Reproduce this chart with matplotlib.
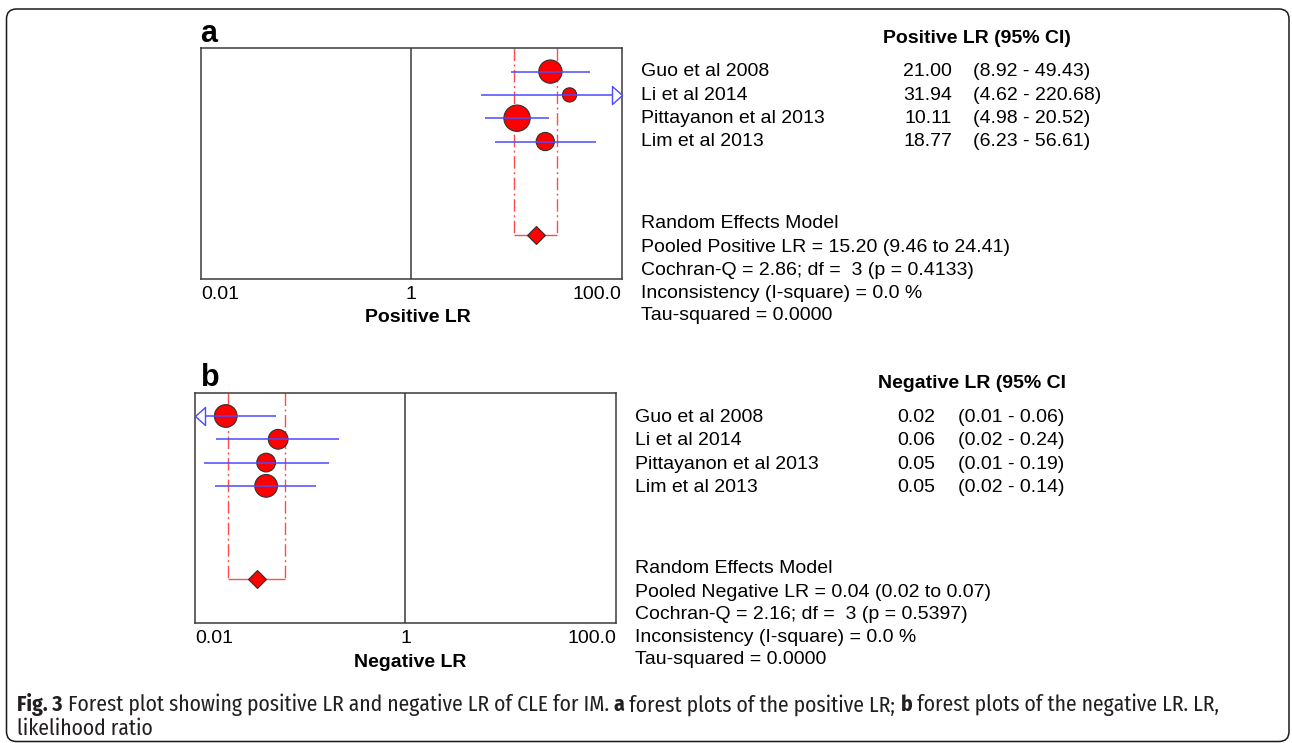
import matplotlib
matplotlib.use("Agg")
import matplotlib.pyplot as plt
from matplotlib.patches import FancyBboxPatch
from matplotlib.path import Path
from matplotlib.transforms import IdentityTransform
import numpy as np

# ---------------- data ----------------
studies = ["Guo et al 2008", "Li et al 2014", "Pittayanon et al 2013", "Lim et al 2013"]

pos_lr = [21.00, 31.94, 10.11, 18.77]
pos_lo = [8.92, 4.62, 4.98, 6.23]
pos_hi = [49.43, 220.68, 20.52, 56.61]
pos_weight = [30.7, 11.4, 39.2, 18.8]
pos_pooled = [15.20, 9.46, 24.41]
pos_stats = {"q": 2.86, "df": 3, "p": 0.4133, "i2": 0.0, "tau2": 0.0}

neg_lr = [0.0196, 0.0617, 0.0474, 0.0474]
neg_lo = [0.007, 0.0158, 0.0122, 0.0155]
neg_hi = [0.059, 0.236, 0.186, 0.141]
neg_weight = [29.1, 22.0, 19.8, 29.1]
neg_pooled = [0.0387, 0.0206, 0.0715]
neg_stats = {"q": 2.16, "df": 3, "p": 0.5397, "i2": 0.0, "tau2": 0.0}

tick_values = [0.01, 1, 100]
tick_labels = ["0.01", "1", "100.0"]

# ---------------- figure ----------------
W, H = 1292, 743
DPI = 100
plt.rcParams["font.family"] = ["Liberation Sans", "DejaVu Sans"]
fig = plt.figure(figsize=(W / DPI, H / DPI), dpi=DPI)
fig.patch.set_facecolor("white")

FS = 14
RED = "#ff0000"
BLUE = "#4a4aff"
BRACKET = "#ff4d4d"
FRAME = "#3a3a3a"


def fx(x):
    return x / W


def fy(y):
    return 1 - y / H


def px_axes(left, top, right, bottom):
    return fig.add_axes([fx(left), fy(bottom), (right - left) / W, (bottom - top) / H])


# open arrowhead markers (tip at the origin)
arrow_right = Path([(0, 0), (-1, 0.9), (-1, -0.9), (0, 0)],
                   [Path.MOVETO, Path.LINETO, Path.LINETO, Path.CLOSEPOLY])
arrow_left = Path([(0, 0), (1, 0.9), (1, -0.9), (0, 0)],
                  [Path.MOVETO, Path.LINETO, Path.LINETO, Path.CLOSEPOLY])


def forest(ax, est, lo, hi, weight, pooled, xlabel, label_x):
    xmin, xmax = tick_values[0], tick_values[-1]
    rows = np.arange(1, len(est) + 1)
    pooled_row = 8
    ax.set_xscale("log")
    ax.set_xlim(xmin, xmax)
    ax.set_ylim(9.9, 0)
    ax.minorticks_off()
    ax.set_yticks([])
    ax.set_xticks(tick_values)
    ax.set_xticklabels(tick_labels, fontsize=FS)
    ax.tick_params(axis="x", length=0, pad=4.7)
    tl = ax.get_xticklabels()
    tl[0].set_ha("left")
    tl[-1].set_ha("right")
    for s in ax.spines.values():
        s.set_color(FRAME)
        s.set_linewidth(1.1)

    ax.axvline(1, color=FRAME, lw=1.1, zorder=1)

    # pooled confidence bracket
    ax.vlines([pooled[1], pooled[2]], 0, pooled_row, colors=BRACKET, lw=1.0,
              linestyles=[(0, (9, 2.5, 1.5, 2.5))], zorder=2)
    ax.hlines(pooled_row, pooled[1], pooled[2], colors=BRACKET, lw=1.0, zorder=2)

    # study estimates sized by weight
    diam_pt = 4.2 * np.sqrt(np.asarray(weight)) * 0.72
    ax.scatter(est, rows, s=diam_pt ** 2, c=RED, edgecolors="#303030",
               linewidths=0.8, zorder=3)

    # confidence intervals, arrows where they run past the axis
    for r, l, h in zip(rows, lo, hi):
        ax.hlines(r, max(l, xmin), min(h, xmax), colors=BLUE, lw=1.1, zorder=4)
        if h > xmax:
            ax.plot([xmax], [r], marker=arrow_right, ms=14.4, mfc="white",
                    mec=BLUE, mew=1.0, clip_on=False, zorder=5)
        if l < xmin:
            ax.plot([xmin], [r], marker=arrow_left, ms=14.4, mfc="white",
                    mec=BLUE, mew=1.0, clip_on=False, zorder=5)

    ax.plot([pooled[0]], [pooled_row], marker="D", ms=8.8, mfc=RED,
            mec="#303030", mew=0.8, zorder=5)

    ax.set_xlabel(xlabel, fontsize=FS, fontweight="bold", va="top")
    ax.xaxis.set_label_coords(label_x, -0.132)


def side_table(x_name, x_val, x_ci, x_head, y_head, row_ys, sum_ys,
               heading, est, lo, hi, pooled, stats, pooled_name):
    fig.text(fx(x_head), fy(y_head), heading, fontsize=FS, fontweight="bold",
             va="center", ha="left")
    for name, e, l, h, y in zip(studies, est, lo, hi, row_ys):
        fig.text(fx(x_name), fy(y), name, fontsize=FS, va="center", ha="left")
        fig.text(fx(x_val), fy(y), f"{e:.2f}", fontsize=FS, va="center", ha="right")
        fig.text(fx(x_ci), fy(y), f"({l:.2f} - {h:.2f})", fontsize=FS,
                 va="center", ha="left")
    lines = [
        "Random Effects Model",
        f"{pooled_name} = {pooled[0]:.2f} ({pooled[1]:.2f} to {pooled[2]:.2f})",
        f"Cochran-Q = {stats['q']:.2f}; df = {stats['df']:2d} (p = {stats['p']:.4f})",
        f"Inconsistency (I-square) = {stats['i2']:.1f} %",
        f"Tau-squared = {stats['tau2']:.4f}",
    ]
    for txt, y in zip(lines, sum_ys):
        fig.text(fx(x_name), fy(y), txt, fontsize=FS, va="center", ha="left")


# panel a
ax_a = px_axes(201, 48.3, 621.7, 279)
forest(ax_a, pos_lr, pos_lo, pos_hi, pos_weight, pos_pooled, "Positive LR", 0.516)
fig.text(fx(200), fy(42.3), "a", fontsize=22, fontweight="bold", va="baseline")
side_table(641, 952, 973, 883, 38.5, [72, 95.3, 118.7, 142],
           [223.7, 247.5, 270.3, 293.3, 315.3],
           "Positive LR (95% CI)", pos_lr, pos_lo, pos_hi, pos_pooled, pos_stats,
           "Pooled Positive LR")

# panel b
ax_b = px_axes(195, 392.7, 616, 623.3)
forest(ax_b, neg_lr, neg_lo, neg_hi, neg_weight, neg_pooled, "Negative LR", 0.511)
fig.text(fx(201), fy(386), "b", fontsize=22, fontweight="bold", va="baseline")
side_table(635, 935, 958, 877.7, 383.5, [417, 440.7, 464.7, 487.7],
           [568.7, 592.7, 614.7, 638, 660],
           "Negative LR (95% CI", neg_lr, neg_lo, neg_hi, neg_pooled, neg_stats,
           "Pooled Negative LR")

# caption: condensed face with bold runs
CAP_FONT = ["Fira Sans Condensed", "Open Sans", "DejaVu Sans"]
CAP_FS = 15.5
cap_color = "#231f20"
caption_lines = [
    [("Fig. 3", "bold"),
     (" Forest plot showing positive LR and negative LR of CLE for IM. ", "normal"),
     ("a", "bold"), (" forest plots of the positive LR; ", "normal"),
     ("b", "bold"), (" forest plots of the negative LR. LR,", "normal")],
    [("likelihood ratio", "normal")],
]
caption_ys = [705, 729]
fig.canvas.draw()
renderer = fig.canvas.get_renderer()
for runs, y in zip(caption_lines, caption_ys):
    x = 17
    for txt, wt in runs:
        t = fig.text(fx(x), fy(y), txt, fontsize=CAP_FS, fontweight=wt,
                     family=CAP_FONT, color=cap_color, va="center", ha="left")
        bb = t.get_window_extent(renderer)
        x += bb.width

# rounded outer frame
frame = FancyBboxPatch((6.5, 1.5), 1282.5, 732.5,
                       boxstyle="round,pad=0,rounding_size=10",
                       transform=IdentityTransform(), fill=False,
                       edgecolor="#1a1a1a", linewidth=1.1)
fig.patches.append(frame)

fig.savefig("out.png", dpi=DPI)
